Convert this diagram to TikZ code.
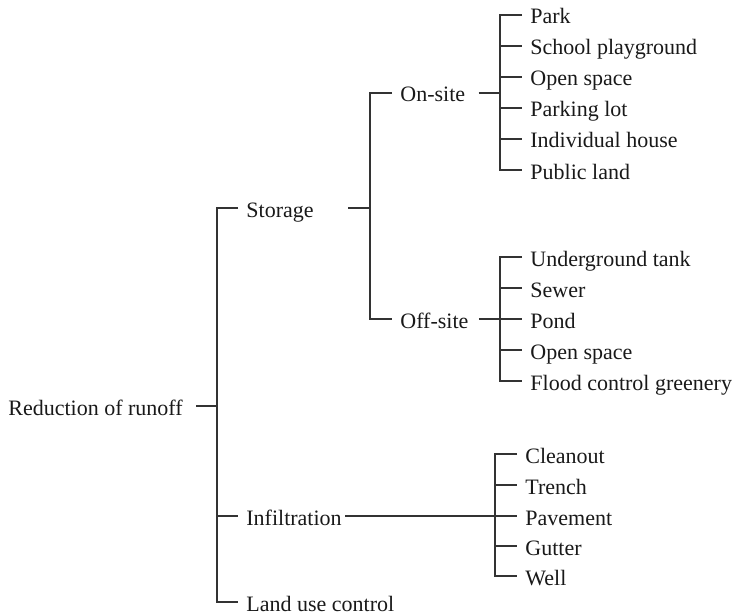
\documentclass[tikz,border=0pt]{standalone}
\usepackage{fontspec}
\setmainfont{Liberation Serif}

\begin{document}
\begin{tikzpicture}[
        x=0.5pt, y=-0.5pt,
        lbl/.style={
            anchor=west,
            inner xsep=4pt,
            inner ysep=0pt,
            text height=10pt,
            text depth=1pt,
            text=black!90,
            font=\fontsize{11}{13}\selectfont
        },
        link/.style={
            line width=0.6pt,
            draw=black!80
        }
    ]

    \useasboundingbox (0,0) rectangle (732,615);

    % root and first level
    \node[lbl] (root)    at (0, 406)   {Reduction of runoff};
    \node[lbl] (storage) at (238, 208) {Storage};
    \node[lbl] (infil)   at (238, 516) {Infiltration};
    \node[lbl] (land)    at (238, 602) {Land use control};
    \coordinate (trunk) at (217, 406);

    % storage branch
    \node[lbl] (onsite)  at (392, 93)  {On-site};
    \node[lbl] (offsite) at (392, 319) {Off-site};
    \coordinate (sjoin) at (370, 208);

    \node[lbl] (park)    at (522, 15)  {Park};
    \node[lbl] (school)  at (522, 46)  {School playground};
    \node[lbl] (onopen)  at (522, 77)  {Open space};
    \node[lbl] (parking) at (522, 108) {Parking lot};
    \node[lbl] (house)   at (522, 139) {Individual house};
    \node[lbl] (public)  at (522, 170) {Public land};
    \coordinate (onjoin) at (500, 93);

    \node[lbl] (tank)    at (522, 257) {Underground tank};
    \node[lbl] (sewer)   at (522, 288) {Sewer};
    \node[lbl] (pond)    at (522, 319) {Pond};
    \node[lbl] (offopen) at (522, 350) {Open space};
    \node[lbl] (flood)   at (522, 381) {Flood control greenery};
    \coordinate (offjoin) at (500, 319);

    % infiltration branch
    \node[lbl] (clean)   at (517, 454) {Cleanout};
    \node[lbl] (trench)  at (517, 485) {Trench};
    \node[lbl] (pave)    at (517, 516) {Pavement};
    \node[lbl] (gutter)  at (517, 546) {Gutter};
    \node[lbl] (well)    at (517, 576) {Well};
    \coordinate (ijoin) at (495, 516);

    % connectors
    \draw[link] ([xshift=2.5pt]root.east) -- (trunk);
    \draw[link] (storage.west) -- (storage.west -| trunk) -- (land.west -| trunk) -- (land.west);
    \draw[link] (infil.west -| trunk) -- (infil.west);

    \draw[link] ([xshift=13pt]storage.east) -- (sjoin);
    \draw[link] (onsite.west) -- (onsite.west -| sjoin) -- (offsite.west -| sjoin) -- (offsite.west);

    \draw[link] ([xshift=2.5pt]onsite.east) -- (onjoin);
    \draw[link] (park.west) -- (park.west -| onjoin) -- (public.west -| onjoin) -- (public.west);
    \draw[link] (school.west -| onjoin) -- (school.west);
    \draw[link] (onopen.west -| onjoin) -- (onopen.west);
    \draw[link] (parking.west -| onjoin) -- (parking.west);
    \draw[link] (house.west -| onjoin) -- (house.west);

    \draw[link] ([xshift=1pt]offsite.east) -- (offjoin);
    \draw[link] (tank.west) -- (tank.west -| offjoin) -- (flood.west -| offjoin) -- (flood.west);
    \draw[link] (sewer.west -| offjoin) -- (sewer.west);
    \draw[link] (pond.west -| offjoin) -- (pond.west);
    \draw[link] (offopen.west -| offjoin) -- (offopen.west);

    \draw[link] ([xshift=-2.5pt]infil.east) -- (ijoin);
    \draw[link] (clean.west) -- (clean.west -| ijoin) -- (well.west -| ijoin) -- (well.west);
    \draw[link] (trench.west -| ijoin) -- (trench.west);
    \draw[link] (pave.west -| ijoin) -- (pave.west);
    \draw[link] (gutter.west -| ijoin) -- (gutter.west);

\end{tikzpicture}
\end{document}
